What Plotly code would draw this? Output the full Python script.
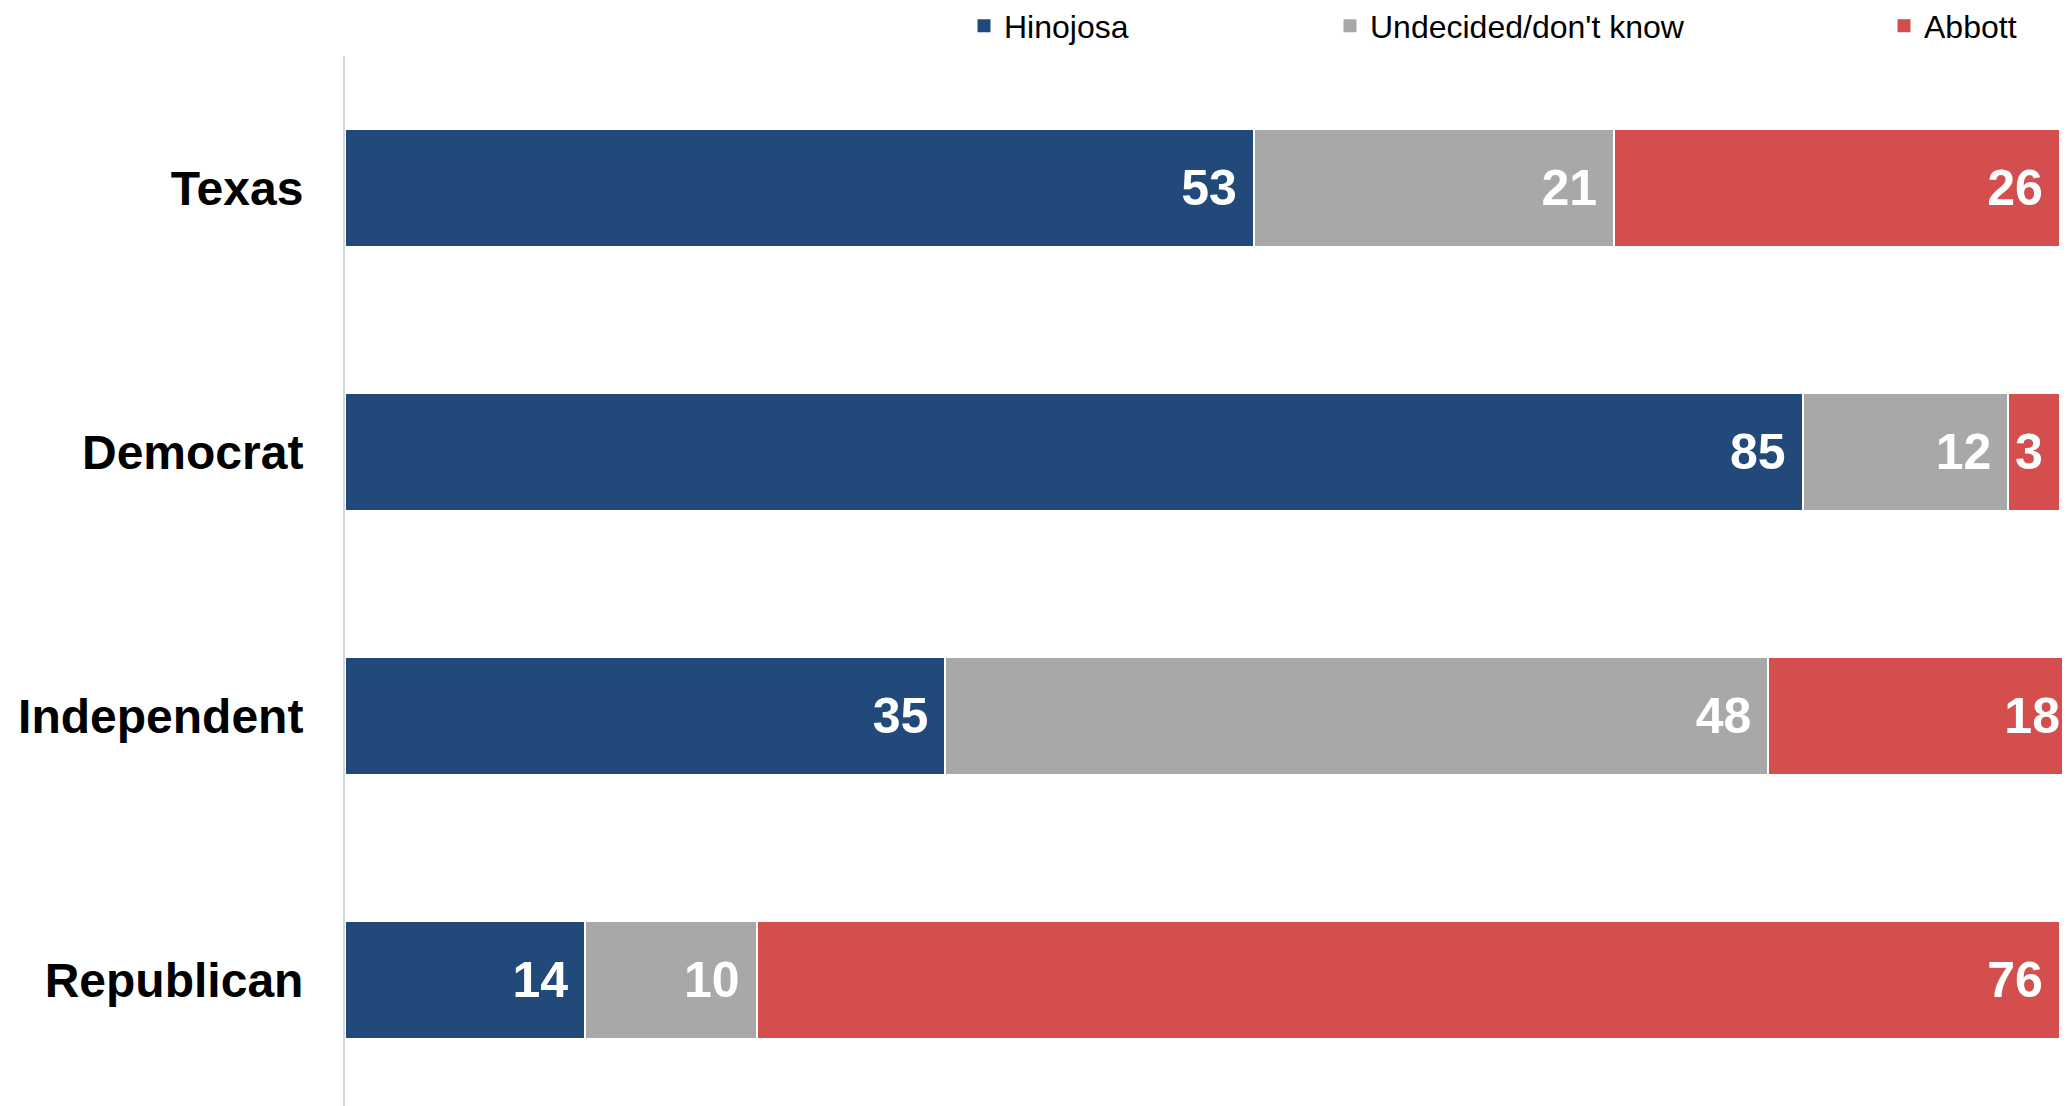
import plotly.graph_objects as go

categories = ["Texas", "Democrat", "Independent", "Republican"]
hinojosa = [53, 85, 35, 14]
undecided = [21, 12, 48, 10]
abbott = [26, 3, 18, 76]

series_names = ["Hinojosa", "Undecided/don't know", "Abbott"]
series_colors = ["#214A7B", "#A8A8A8", "#D44E4E"]
series_values = [hinojosa, undecided, abbott]
legend_ids = ["legend", "legend2", "legend3"]

FONT = "Liberation Sans, Arial, sans-serif"

# page has an 8px body margin; figure sized to fill the rest of the window
W, H = 2062, 1098
legend_x_page = [964, 1330, 1884]

fig = go.Figure()
for name, color, vals, lg in zip(series_names, series_colors, series_values, legend_ids):
    fig.add_trace(go.Bar(
        y=categories, x=vals, name=name, orientation="h",
        marker=dict(color=color, line=dict(color="white", width=2)),
        text=[f"{v}\u00a0" for v in vals],
        textposition="inside", insidetextanchor="end",
        textfont=dict(family=FONT, size=50, color="white", weight="bold"),
        cliponaxis=True, showlegend=False, hoverinfo="skip",
    ))
    # legend entry with a square swatch
    fig.add_trace(go.Scatter(
        x=[None], y=[None], mode="markers", name=name,
        marker=dict(symbol="square", size=13, color=color),
        legend=lg, showlegend=True, hoverinfo="skip",
    ))

layout_legends = {}
for lg, lx in zip(legend_ids, legend_x_page):
    layout_legends[lg] = dict(
        x=(lx - 8) / W, xref="container", xanchor="left",
        y=1 - 18 / H, yref="container", yanchor="middle",
        orientation="h", itemwidth=30, bgcolor="rgba(0,0,0,0)",
        font=dict(family=FONT, size=32, color="black"),
    )

fig.update_layout(
    width=W, height=H,
    margin=dict(l=337, r=0, t=48, b=0, pad=0),
    barmode="stack", bargap=0.553,
    plot_bgcolor="white", paper_bgcolor="white",
    showlegend=True,
    **layout_legends,
)
fig.update_xaxes(range=[0, 100.6], visible=False, showgrid=False, zeroline=False)
fig.update_yaxes(
    categoryorder="array", categoryarray=categories,
    range=[3.477, -0.5], showgrid=False, zeroline=False,
    showline=True, linecolor="#D9D9D9", linewidth=2,
    ticks="", ticklabelstandoff=30,
    tickfont=dict(family=FONT, size=48, color="black", weight="bold"),
)

fig.write_html("out.html")
